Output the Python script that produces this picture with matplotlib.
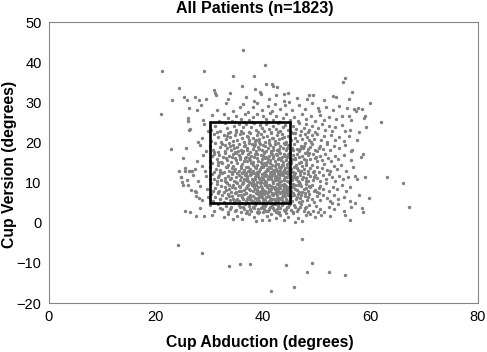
import matplotlib
matplotlib.use("Agg")
import matplotlib.pyplot as plt
from matplotlib.patches import Rectangle

plt.rcParams['font.family'] = ['Liberation Sans', 'DejaVu Sans']

# points, (abduction, version) in degrees
outliers = [
    (36.2, 43.1), (40.4, 39.3), (21.1, 37.9), (28.9, 37.9), (38.2, 36.6), (34.3, 36.5), (55.2, 36.0),
    (54.8, 35.1), (36.0, 34.1), (40.6, 34.5), (41.7, 34.6), (41.8, 34.1), (42.5, 33.8), (24.3, 33.6),
    (56.5, 32.6), (30.9, 33.1), (31.1, 32.3), (38.4, 33.3), (39.4, 32.5), (33.9, 32.4), (43.9, 32.1),
    (48.5, 31.7), (53.0, 31.6), (23.0, 30.6), (25.8, 30.6), (27.2, 31.2), (29.4, 30.7), (59.9, 29.7),
    (56.9, 28.4), (57.6, 28.6), (58.4, 28.4), (50.2, 28.7), (27.7, 28.2), (21.0, 27.2), (59.0, 26.7),
    (61.9, 25.1), (59.1, 23.8), (22.9, 18.4), (63.1, 11.5), (66.0, 10.0), (67.1, 4.0), (59.7, 6.1),
    (58.4, 3.6), (58.6, 2.6), (56.2, 0.7), (55.3, 1.9), (25.5, 2.8), (26.3, 2.7), (27.5, 1.6),
    (24.2, -5.6), (28.5, -7.5), (47.2, -4.1), (33.7, -10.7), (35.6, -10.2), (37.5, -10.2), (44.3, -10.6),
    (49.1, -10.0), (48.2, -12.2), (52.2, -12.2), (55.2, -13.0), (45.8, -16.1), (41.5, -16.9),
    (24.3, 13.0), (24.6, 11.3), (24.9, 10.1), (26.0, 9.5), (25.5, 13.0), (26.1, 12.9), (26.8, 12.8),
    (26.0, 25.4), (26.2, 23.1), (27.9, 20.0), (27.2, 7.8), (28.1, 6.1), (28.9, 1.7), (57.1, 11.6),
    (58.9, 11.4), (57.9, 7.0), (57.0, 4.9), (56.6, 18.0), (57.5, 20.5), (58.6, 17.1), (55.9, 26.6),
]

upper = [
    # version 30-32.5
    (25.3, 31.4), (28.1, 30.6), (31.2, 31.9), (33.4, 30.8), (36.7, 31.2), (38.2, 30.4), (39.6, 32.1),
    (41.1, 30.9), (42.3, 31.7), (43.8, 30.2), (44.6, 32.3), (46.2, 31.0), (48.1, 30.7), (49.3, 31.9),
    (51.4, 30.5), (53.6, 31.3), (56.0, 30.9),
    # 27.5-30
    (26.2, 28.6), (28.4, 29.3), (31.3, 28.1), (33.1, 29.7), (34.4, 27.9), (35.6, 28.8), (36.3, 29.5),
    (37.1, 27.7), (38.0, 28.9), (38.9, 29.8), (39.7, 28.2), (40.8, 29.1), (41.6, 27.8), (42.1, 29.6),
    (43.2, 28.4), (44.1, 29.2), (45.3, 28.0), (46.6, 29.4), (47.8, 28.3), (49.0, 29.8), (50.3, 27.9),
    (51.7, 28.8), (52.9, 28.2), (54.1, 29.0), (55.6, 28.5), (57.2, 27.8), (44.8, 30.0),
    # 25-27.5
    (25.9, 26.1), (28.7, 25.7), (30.4, 26.8), (31.8, 25.4), (32.7, 27.1), (33.5, 26.0), (34.2, 25.3),
    (35.0, 26.6), (35.9, 25.8), (36.6, 27.2), (37.4, 25.5), (38.1, 26.3), (38.8, 27.0), (39.5, 25.2),
    (39.9, 26.5), (40.6, 25.9), (41.2, 27.3), (41.9, 25.6), (42.4, 26.7), (42.9, 25.1), (43.6, 26.2),
    (44.3, 27.0), (44.9, 25.7), (45.7, 26.4), (46.4, 25.3), (47.2, 27.1), (48.0, 25.9), (48.9, 26.6),
    (49.6, 25.4), (50.5, 26.9), (51.3, 25.6), (52.2, 26.3), (53.5, 25.8), (54.7, 26.7), (56.3, 25.5),
    (58.8, 26.2), (34.8, 25.0), (37.9, 25.0), (43.1, 25.1),
    # 22.5-25
    (26.4, 23.3), (28.9, 24.6), (30.3, 23.1), (31.1, 24.2), (31.9, 22.8), (32.8, 24.8), (33.3, 23.5),
    (33.9, 22.6), (34.5, 24.1), (34.9, 23.0), (35.4, 24.7), (35.8, 22.9), (36.2, 23.8), (36.8, 24.5),
    (37.3, 22.7), (37.7, 23.9), (38.2, 24.9), (38.6, 23.2), (39.0, 22.6), (39.4, 24.3), (39.8, 23.6),
    (40.2, 22.9), (40.6, 24.6), (41.0, 23.4), (41.5, 22.7), (41.9, 24.0), (42.3, 23.3), (42.7, 24.8),
    (43.2, 22.8), (43.6, 23.9), (44.1, 24.4), (44.6, 23.1), (45.2, 22.6), (45.6, 24.2), (46.1, 23.4),
    (46.6, 24.8), (47.0, 22.9), (47.5, 23.7), (48.0, 24.5), (48.6, 23.0), (49.1, 24.1), (49.6, 22.7),
    (50.2, 23.6), (50.9, 24.6), (51.5, 23.1), (52.2, 24.0), (52.8, 22.8), (53.4, 23.8), (54.6, 24.3),
    (56.1, 23.2), (57.9, 22.7), (36.5, 25.0), (40.9, 25.0), (29.8, 22.9), (44.9, 24.9), (48.3, 22.6),
    (55.2, 22.9),
    # 20-22.5
    (28.6, 21.1), (30.2, 20.4), (30.9, 22.0), (31.5, 21.3), (32.1, 20.2), (32.6, 21.8), (33.0, 20.9),
    (33.5, 22.3), (33.9, 21.4), (34.3, 20.3), (34.8, 21.9), (35.2, 20.7), (35.6, 22.2), (36.0, 21.2),
    (36.4, 20.1), (36.9, 21.7), (37.3, 20.6), (37.6, 22.4), (38.0, 21.0), (38.4, 20.3), (38.8, 21.9),
    (39.2, 20.8), (39.5, 22.1), (39.9, 21.3), (40.3, 20.2), (40.7, 21.7), (41.1, 20.6), (41.4, 22.3),
    (41.8, 21.0), (42.2, 20.4), (42.6, 21.8), (43.0, 20.9), (43.4, 22.2), (43.8, 21.4), (44.2, 20.1),
    (44.6, 21.6), (45.1, 20.7), (45.5, 22.3), (45.9, 21.1), (46.3, 20.3), (46.8, 21.9), (47.2, 20.8),
    (47.7, 22.0), (48.1, 21.3), (48.6, 20.5), (49.0, 21.8), (49.5, 20.9), (50.1, 22.1), (50.7, 20.6),
    (51.3, 21.5), (51.9, 20.2), (52.6, 21.9), (53.3, 20.7), (54.2, 21.4), (55.1, 20.3), (56.0, 21.6),
    (31.3, 22.5), (35.0, 22.5), (39.3, 20.0), (43.5, 21.1), (37.1, 21.4), (41.6, 21.1), (46.0, 22.4),
    (48.9, 20.1), (33.2, 21.6), (44.9, 21.2), (42.8, 22.5), (38.7, 20.5), (36.2, 22.4),
]

middle = [
    # 17.5-20
    (25.7, 18.6), (28.2, 19.4), (29.3, 17.9), (30.1, 19.1), (30.6, 18.2), (31.0, 19.8), (31.5, 17.7),
    (32.0, 18.8), (32.4, 19.6), (32.8, 17.9), (33.2, 18.5), (33.6, 19.9), (34.0, 18.1), (34.4, 19.3),
    (34.7, 17.6), (35.1, 18.9), (35.5, 19.7), (35.8, 18.2), (36.2, 17.8), (36.6, 19.4), (36.9, 18.6),
    (37.3, 19.9), (37.6, 17.7), (38.0, 18.4), (38.3, 19.2), (38.7, 17.9), (39.0, 18.8), (39.4, 19.7),
    (39.7, 18.1), (40.1, 17.6), (40.4, 19.0), (40.8, 18.5), (41.1, 19.8), (41.5, 17.8), (41.8, 18.9),
    (42.2, 19.5), (42.5, 18.2), (42.9, 17.7), (43.2, 19.1), (43.6, 18.6), (43.9, 19.9), (44.3, 18.0),
    (44.7, 19.3), (45.0, 17.6), (45.4, 18.7), (45.8, 19.6), (46.2, 18.3), (46.6, 17.9), (47.0, 19.2),
    (47.4, 18.5), (47.8, 19.8), (48.2, 17.7), (48.7, 18.9), (49.1, 19.5), (49.6, 18.1), (50.1, 17.8),
    (50.6, 19.2), (51.2, 18.4), (51.8, 19.7), (52.5, 18.0), (53.2, 19.0), (54.1, 18.6), (55.3, 19.4),
    (56.4, 17.8), (33.8, 19.0), (35.3, 17.9), (37.0, 18.1), (38.5, 19.5), (39.9, 19.3), (40.6, 17.9),
    (41.9, 18.1), (43.0, 18.3), (44.0, 19.5), (45.6, 18.1), (46.9, 18.4), (30.8, 17.6), (42.7, 19.9),
    (36.4, 19.0), (39.2, 18.4), (44.5, 18.6), (47.6, 19.0), (34.6, 18.6), (41.3, 19.3), (32.9, 19.3),
    (48.4, 18.3), (37.9, 19.6), (50.4, 18.6),
    # 15-17.5
    (25.1, 16.2), (27.6, 15.4), (28.8, 16.8), (30.0, 15.3), (30.4, 16.6), (30.9, 17.2), (31.3, 15.8),
    (31.7, 16.9), (32.1, 15.2), (32.5, 16.3), (32.9, 17.4), (33.2, 15.7), (33.6, 16.5), (34.0, 15.1),
    (34.3, 17.0), (34.7, 16.1), (35.0, 15.5), (35.4, 16.8), (35.7, 15.9), (36.1, 17.3), (36.4, 15.3),
    (36.8, 16.4), (37.1, 17.1), (37.5, 15.6), (37.8, 16.6), (38.1, 15.2), (38.5, 17.2), (38.8, 16.0),
    (39.1, 15.4), (39.5, 16.9), (39.8, 15.8), (40.1, 17.4), (40.4, 16.2), (40.7, 15.1), (41.0, 16.7),
    (41.3, 15.6), (41.6, 17.0), (41.9, 16.1), (42.2, 15.3), (42.5, 16.8), (42.8, 15.9), (43.1, 17.3),
    (43.4, 16.4), (43.7, 15.2), (44.0, 16.6), (44.3, 15.7), (44.6, 17.1), (44.9, 16.0), (45.2, 15.4),
    (45.6, 16.9), (45.9, 15.8), (46.3, 17.2), (46.6, 16.3), (47.0, 15.1), (47.3, 16.5), (47.7, 17.4),
    (48.0, 15.6), (48.4, 16.8), (48.8, 15.9), (49.2, 17.0), (49.6, 16.2), (50.0, 15.3), (50.5, 16.7),
    (51.0, 15.6), (51.5, 17.1), (52.0, 16.0), (52.6, 15.4), (53.3, 16.6), (54.0, 15.8), (55.1, 16.9),
    (56.3, 15.5), (58.2, 16.4), (33.0, 16.0), (34.9, 17.4), (36.6, 16.0), (38.3, 16.3), (39.6, 15.2),
    (40.9, 15.9), (41.8, 16.5), (42.9, 16.2), (43.9, 17.0), (44.8, 15.2), (46.0, 16.1), (47.5, 15.8),
    (48.6, 17.3), (37.3, 16.2), (39.9, 16.6), (42.4, 17.2), (45.4, 15.9), (35.6, 16.4), (31.6, 15.1),
    (43.3, 15.5), (40.6, 16.3), (38.9, 17.2), (44.5, 16.3), (36.9, 15.3), (49.9, 16.4), (34.1, 16.3),
    (41.5, 17.4),
    # 12.5-15
    (25.4, 13.6), (26.3, 12.9), (27.2, 13.4), (28.6, 14.1), (29.1, 12.8), (30.0, 13.9), (30.4, 14.8),
    (30.8, 12.7), (31.2, 13.5), (31.6, 14.4), (32.0, 13.1), (32.3, 14.9), (32.7, 12.6), (33.0, 13.8),
    (33.4, 14.5), (33.7, 13.0), (34.1, 12.6), (34.4, 14.2), (34.8, 13.4), (35.1, 14.9), (35.5, 12.8),
    (35.8, 13.7), (36.1, 14.6), (36.5, 13.2), (36.8, 12.5), (37.1, 14.0), (37.5, 13.5), (37.8, 14.8),
    (38.1, 12.9), (38.4, 13.9), (38.8, 14.4), (39.1, 12.7), (39.4, 13.3), (39.7, 14.7), (40.0, 13.8),
    (40.3, 12.6), (40.6, 14.3), (40.9, 13.1), (41.2, 14.9), (41.5, 13.6), (41.8, 12.8), (42.1, 14.1),
    (42.4, 13.4), (42.7, 14.7), (43.0, 12.9), (43.3, 13.8), (43.6, 14.5), (43.9, 13.2), (44.2, 12.6),
    (44.5, 14.0), (44.8, 13.6), (45.1, 14.9), (45.4, 12.7), (45.8, 13.9), (46.1, 14.4), (46.5, 13.1),
    (46.8, 12.6), (47.2, 14.2), (47.5, 13.5), (47.9, 14.8), (48.3, 12.9), (48.7, 13.7), (49.1, 14.5),
    (49.5, 13.0), (50.0, 14.0), (50.4, 12.7), (50.9, 13.6), (51.4, 14.6), (51.9, 13.2), (52.5, 12.8),
    (53.1, 14.1), (53.7, 13.4), (54.5, 14.5), (55.4, 13.0), (56.7, 13.8), (31.9, 12.6), (33.3, 14.0),
    (34.6, 13.0), (35.9, 14.2), (37.2, 12.9), (38.6, 13.6), (39.9, 14.1), (40.7, 13.5), (41.4, 12.6),
    (42.0, 13.2), (42.9, 13.9), (43.7, 12.7), (44.4, 14.7), (45.2, 13.3), (46.3, 13.7), (47.0, 13.0),
    (48.0, 14.3), (49.3, 12.6), (36.7, 13.9), (38.0, 14.5), (39.2, 13.0), (40.2, 14.8), (41.1, 13.9),
    (42.6, 12.9), (43.4, 14.3), (44.0, 13.6), (45.6, 12.6), (34.2, 13.7), (37.6, 12.6), (40.5, 12.9),
    (42.3, 14.6), (44.7, 12.9), (46.6, 14.9), (39.6, 14.0), (41.7, 14.4), (43.1, 13.2), (38.9, 12.6),
    (36.3, 12.7),
]

core = [
    # 10-12.5
    (24.6, 11.3), (25.8, 10.6), (26.9, 11.9), (27.9, 10.4), (29.3, 11.6), (30.1, 10.8), (30.5, 12.2),
    (30.9, 11.0), (31.3, 10.3), (31.7, 11.8), (32.1, 10.6), (32.4, 12.4), (32.8, 11.2), (33.1, 10.1),
    (33.5, 11.7), (33.8, 10.9), (34.2, 12.1), (34.5, 10.4), (34.9, 11.5), (35.2, 12.3), (35.6, 10.7),
    (35.9, 11.4), (36.2, 10.2), (36.6, 12.0), (36.9, 11.1), (37.2, 10.5), (37.5, 11.8), (37.9, 10.9),
    (38.2, 12.4), (38.5, 11.3), (38.8, 10.1), (39.1, 11.6), (39.4, 10.7), (39.7, 12.2), (40.0, 11.0),
    (40.3, 10.3), (40.6, 11.9), (40.9, 10.8), (41.2, 12.3), (41.5, 11.4), (41.8, 10.2), (42.1, 11.7),
    (42.4, 10.6), (42.7, 12.1), (43.0, 11.1), (43.3, 10.4), (43.6, 11.9), (43.9, 10.9), (44.2, 12.4),
    (44.5, 11.3), (44.8, 10.1), (45.1, 11.6), (45.4, 10.7), (45.8, 12.0), (46.1, 11.0), (46.5, 10.4),
    (46.8, 11.8), (47.2, 10.8), (47.6, 12.3), (48.0, 11.2), (48.4, 10.3), (48.8, 11.7), (49.2, 10.6),
    (49.7, 12.0), (50.1, 11.1), (50.6, 10.4), (51.1, 11.9), (51.6, 10.9), (52.2, 12.2), (52.8, 11.3),
    (53.4, 10.5), (54.1, 11.7), (54.9, 10.8), (55.8, 11.5), (57.4, 10.9), (31.5, 11.5), (32.9, 10.5),
    (34.0, 11.2), (35.4, 11.8), (36.4, 11.0), (37.7, 12.2), (38.0, 10.3), (39.0, 12.4), (39.8, 11.4),
    (40.5, 10.1), (41.0, 11.6), (41.7, 12.0), (42.2, 11.1), (42.9, 10.2), (43.5, 12.4), (44.0, 11.5),
    (44.7, 12.1), (45.3, 11.1), (46.0, 12.4), (46.7, 10.2), (47.4, 11.5), (48.3, 12.2), (49.5, 11.4),
    (36.0, 12.4), (37.0, 11.7), (38.4, 11.0), (39.5, 10.2), (40.2, 12.4), (41.4, 10.8), (42.6, 11.5),
    (43.8, 10.6), (45.0, 10.4), (46.3, 11.5), (37.4, 10.1), (38.9, 11.8), (40.8, 11.2), (42.0, 12.4),
    (43.2, 11.8), (44.4, 10.5), (45.7, 11.3), (39.3, 11.1), (41.9, 10.5), (43.0, 12.3), (35.0, 10.2),
    (47.9, 10.5), (40.4, 11.6), (42.8, 10.8), (44.9, 12.0), (38.6, 12.1), (36.7, 10.6),
    # 7.5-10
    (25.0, 9.5), (26.6, 8.1), (27.4, 7.6), (28.3, 9.2), (29.5, 8.4), (30.2, 9.8), (30.6, 7.9),
    (31.0, 8.7), (31.4, 9.6), (31.8, 8.0), (32.2, 9.1), (32.6, 7.7), (32.9, 8.9), (33.3, 9.9),
    (33.7, 8.3), (34.0, 7.6), (34.4, 9.4), (34.7, 8.6), (35.1, 9.9), (35.4, 7.8), (35.7, 8.8),
    (36.1, 9.6), (36.4, 8.2), (36.7, 7.5), (37.0, 9.1), (37.4, 8.5), (37.7, 9.8), (38.0, 7.9),
    (38.3, 8.9), (38.6, 9.5), (38.9, 8.1), (39.2, 7.6), (39.5, 9.2), (39.8, 8.6), (40.1, 9.9),
    (40.4, 7.8), (40.7, 8.8), (41.0, 9.4), (41.3, 8.0), (41.6, 7.5), (41.9, 9.0), (42.2, 8.4),
    (42.5, 9.7), (42.8, 7.9), (43.1, 8.7), (43.4, 9.5), (43.7, 8.2), (44.0, 7.6), (44.3, 9.2),
    (44.6, 8.5), (44.9, 9.8), (45.2, 7.8), (45.6, 8.9), (45.9, 9.4), (46.3, 8.1), (46.7, 7.6),
    (47.1, 9.1), (47.5, 8.4), (47.9, 9.7), (48.3, 7.9), (48.7, 8.8), (49.1, 9.5), (49.6, 8.2),
    (50.1, 7.7), (50.6, 9.2), (51.1, 8.5), (51.7, 9.8), (52.3, 8.0), (53.0, 9.0), (53.8, 8.4),
    (54.7, 9.3), (55.5, 7.8), (56.2, 8.9), (31.6, 7.6), (33.0, 8.2), (34.2, 8.8), (35.5, 9.2),
    (36.8, 8.7), (37.9, 9.3), (38.8, 7.6), (39.6, 8.0), (40.3, 9.3), (41.1, 8.5), (41.8, 9.8),
    (42.4, 8.0), (43.0, 9.9), (43.8, 9.0), (44.5, 7.8), (45.3, 9.0), (46.0, 8.5), (46.9, 9.7),
    (48.0, 8.6), (49.4, 7.8), (36.3, 9.9), (37.6, 8.1), (38.5, 8.4), (39.4, 9.8), (40.0, 8.2),
    (40.9, 7.6), (41.5, 9.2), (42.1, 8.9), (42.7, 8.6), (43.3, 7.6), (44.2, 8.3), (44.8, 8.8),
    (45.5, 9.6), (47.3, 7.6), (39.0, 9.0), (40.6, 9.6), (42.9, 9.4), (43.9, 9.7), (41.4, 8.4),
    (38.2, 9.7), (35.9, 7.9), (37.2, 9.5), (39.9, 7.7), (42.6, 7.6), (44.1, 9.4), (46.5, 9.3),
    (34.9, 7.6), (33.6, 9.5), (48.5, 9.2), (50.3, 8.7),
]

lower = [
    # 5-7.5
    (27.5, 6.7), (28.5, 5.6), (29.8, 6.3), (30.3, 7.2), (30.7, 5.4), (31.1, 6.5), (31.5, 7.4),
    (31.9, 5.8), (32.3, 6.9), (32.7, 5.2), (33.0, 6.2), (33.4, 7.1), (33.8, 5.6), (34.1, 6.6),
    (34.5, 5.1), (34.8, 7.3), (35.2, 6.0), (35.5, 5.4), (35.8, 6.8), (36.2, 5.9), (36.5, 7.2),
    (36.8, 5.3), (37.1, 6.4), (37.5, 7.0), (37.8, 5.7), (38.1, 6.6), (38.4, 5.1), (38.7, 7.4),
    (39.0, 6.1), (39.3, 5.5), (39.6, 6.9), (39.9, 5.8), (40.2, 7.2), (40.5, 6.3), (40.8, 5.2),
    (41.1, 6.7), (41.4, 5.6), (41.7, 7.1), (42.0, 6.0), (42.3, 5.3), (42.6, 6.8), (42.9, 5.9),
    (43.2, 7.3), (43.5, 6.4), (43.8, 5.1), (44.1, 6.6), (44.4, 5.5), (44.7, 7.0), (45.0, 6.2),
    (45.4, 5.3), (45.7, 6.9), (46.1, 5.8), (46.5, 7.2), (46.9, 6.1), (47.3, 5.4), (47.7, 6.7),
    (48.1, 5.6), (48.6, 7.1), (49.0, 6.0), (49.5, 5.2), (50.0, 6.6), (50.6, 5.7), (51.2, 7.0),
    (51.8, 6.2), (52.5, 5.4), (53.2, 6.8), (54.0, 5.9), (55.0, 6.5), (56.1, 5.3), (32.0, 6.0),
    (33.6, 6.7), (34.9, 5.7), (36.0, 6.4), (37.3, 5.8), (38.5, 6.2), (39.5, 7.4), (40.4, 5.6),
    (41.3, 6.1), (42.2, 7.4), (43.0, 6.2), (43.9, 7.4), (44.9, 5.4), (46.3, 6.4), (47.8, 7.4),
    (36.7, 7.4), (38.0, 5.4), (39.2, 6.5), (40.0, 5.1), (41.6, 5.9), (42.8, 5.5), (44.2, 6.0),
    (45.6, 7.4), (37.6, 6.5), (40.7, 7.4), (43.4, 5.6), (45.2, 6.6), (35.3, 7.0), (39.8, 6.3),
    (41.9, 6.9), (44.5, 7.3), (46.7, 5.2), (48.3, 6.3), (38.9, 5.7), (42.5, 6.1), (34.3, 6.0),
    (40.9, 6.6), (43.7, 6.8), (36.9, 6.0), (47.1, 6.8), (39.1, 7.2), (41.0, 5.4), (42.1, 5.1),
    (50.4, 7.3),
    # 2.5-5
    (28.2, 3.6), (30.0, 4.3), (30.8, 2.9), (31.6, 4.7), (32.4, 3.4), (33.0, 4.1), (33.5, 2.7),
    (34.0, 3.9), (34.5, 4.8), (35.0, 3.2), (35.4, 4.4), (35.8, 2.6), (36.2, 3.8), (36.6, 4.6),
    (37.0, 3.0), (37.4, 4.2), (37.8, 2.8), (38.2, 3.7), (38.6, 4.9), (39.0, 3.3), (39.3, 2.6),
    (39.7, 4.0), (40.1, 3.5), (40.5, 4.7), (40.9, 2.9), (41.2, 3.9), (41.6, 4.4), (42.0, 3.1),
    (42.4, 2.6), (42.8, 4.1), (43.2, 3.6), (43.6, 4.8), (44.0, 2.8), (44.4, 3.8), (44.8, 4.5),
    (45.2, 3.2), (45.6, 2.6), (46.0, 4.0), (46.5, 3.4), (47.0, 4.7), (47.5, 2.9), (48.0, 3.9),
    (48.6, 4.4), (49.2, 3.0), (49.9, 4.2), (50.6, 3.5), (51.4, 2.7), (52.2, 4.0), (53.1, 3.3),
    (54.0, 4.6), (55.1, 2.8), (56.4, 3.9), (36.0, 4.9), (37.6, 3.5), (38.8, 2.7), (40.3, 4.1),
    (41.9, 3.7), (43.0, 2.7), (44.6, 4.0), (46.2, 2.8), (47.7, 3.6), (39.5, 3.7), (42.6, 3.4),
    (45.0, 4.9), (34.7, 2.9), (36.4, 3.3), (38.4, 4.3), (40.0, 2.7), (41.4, 4.9), (43.8, 3.2),
    (45.8, 4.4), (48.3, 2.6), (37.2, 4.9), (39.9, 4.5), (42.2, 4.6), (44.2, 3.5), (35.6, 3.9),
    (41.0, 3.3), (43.4, 4.3), (46.8, 3.9), (33.8, 3.3), (50.2, 2.6), (52.8, 4.8), (31.9, 3.7),
    (40.6, 3.0), (38.0, 4.0),
    # 0-2.5
    (30.5, 1.9), (32.6, 1.3), (33.4, 2.2), (35.2, 1.6), (36.1, 0.9), (37.3, 2.1), (38.2, 1.4),
    (39.1, 2.3), (39.8, 0.8), (40.7, 1.7), (41.5, 2.2), (42.3, 1.1), (43.1, 1.9), (43.9, 0.7),
    (44.7, 1.5), (45.5, 2.3), (46.4, 1.2), (47.2, 0.5), (47.9, 1.8), (48.7, 2.1), (49.6, 1.3),
    (50.8, 2.0), (52.4, 1.6), (38.6, 0.4), (41.1, 0.6), (44.3, 2.4), (36.8, 2.4), (34.3, 1.0),
    (46.0, 0.3), (42.7, 2.4),
]

# target zone drawn on the chart
zone_abduction = (30, 45)
zone_version = (5, 25)

x_ticks = [0, 20, 40, 60, 80]
y_ticks = [-20, -10, 0, 10, 20, 30, 40, 50]

pts = outliers + upper + middle + core + lower
abduction = [p[0] for p in pts]
version = [p[1] for p in pts]

fig = plt.figure(figsize=(4.87, 3.52), dpi=100)
ax = fig.add_axes([0.0996, 0.1392, 0.8819, 0.7983])

ax.scatter(abduction, version, s=6, color='#808080', marker='o', linewidths=0, zorder=2)

ax.add_patch(Rectangle((zone_abduction[0], zone_version[0]),
                       zone_abduction[1] - zone_abduction[0],
                       zone_version[1] - zone_version[0],
                       fill=False, edgecolor='black', linewidth=1.9, zorder=3))

ax.set_xlim(0, 80)
ax.set_ylim(-20, 50)
ax.set_xticks(x_ticks)
ax.set_yticks(y_ticks)
ax.tick_params(length=0, labelsize=10.5, pad=5)
for s in ax.spines.values():
    s.set_color('#868686')
    s.set_linewidth(0.8)

fig.text(260 / 487, 1 - 342 / 352, 'Cup Abduction (degrees)', ha='center', va='center',
         fontsize=11.3, fontweight='bold')
fig.text(10 / 487, 1 - 164 / 352, 'Cup Version (degrees)', ha='center', va='center',
         rotation=90, fontsize=11.3, fontweight='bold')
fig.text(255 / 487, 1 - 9 / 352, 'All Patients (n=1823)', ha='center', va='center',
         fontsize=11.5, fontweight='bold')

fig.savefig('out.png', dpi=100)
